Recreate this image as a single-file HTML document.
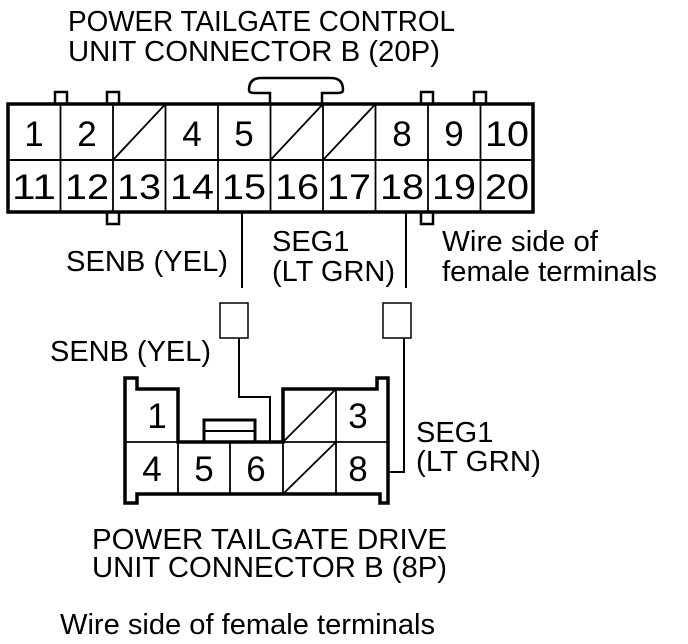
<!DOCTYPE html>
<html><head><meta charset="utf-8"><style>
html,body{margin:0;padding:0;background:#fff;}
svg{display:block;}
text{font-family:"Liberation Sans",Arial,sans-serif;fill:#000;}
</style></head><body>
<svg width="688" height="644" viewBox="0 0 688 644" xmlns="http://www.w3.org/2000/svg">
<g font-size="29">
<text x="68" y="31" textLength="387" lengthAdjust="spacingAndGlyphs">POWER TAILGATE CONTROL</text>
<text x="68" y="61" textLength="372" lengthAdjust="spacingAndGlyphs">UNIT CONNECTOR B (20P)</text>
<text x="66" y="271" textLength="162" lengthAdjust="spacingAndGlyphs">SENB (YEL)</text>
<text x="272" y="251">SEG1</text>
<text x="272" y="281" textLength="123" lengthAdjust="spacingAndGlyphs">(LT GRN)</text>
<text x="442" y="251" textLength="156" lengthAdjust="spacingAndGlyphs">Wire side of</text>
<text x="442" y="281" textLength="215" lengthAdjust="spacingAndGlyphs">female terminals</text>
<text x="50" y="361" textLength="161" lengthAdjust="spacingAndGlyphs">SENB (YEL)</text>
<text x="416" y="442">SEG1</text>
<text x="416" y="471" textLength="125" lengthAdjust="spacingAndGlyphs">(LT GRN)</text>
<text x="92" y="549" textLength="355" lengthAdjust="spacingAndGlyphs">POWER TAILGATE DRIVE</text>
<text x="92" y="577" textLength="355" lengthAdjust="spacingAndGlyphs">UNIT CONNECTOR B (8P)</text>
<text x="60" y="634" textLength="375" lengthAdjust="spacingAndGlyphs">Wire side of female terminals</text>
</g>

<g fill="none" stroke="#000">
<path d="M249,90 Q249,78 261,78 L331,78 Q343,78 343,90 Q343,93 337,93 L322,93 L322,104 M249,90 Q249,93 255,93 L270,93 L270,104" stroke-width="2.5"/>
<rect x="55" y="92" width="12" height="12" stroke-width="2.5"/>
<rect x="107" y="92" width="12" height="12" stroke-width="2.5"/>
<rect x="421" y="92" width="12" height="12" stroke-width="2.5"/>
<rect x="474" y="92" width="12" height="12" stroke-width="2.5"/>
<rect x="107" y="212" width="12" height="12" stroke-width="2.5"/>
<rect x="421" y="212" width="12" height="12" stroke-width="2.5"/>
<rect x="8" y="104" width="525" height="108" stroke-width="3.5" fill="#fff"/>
<line x1="8" y1="160" x2="533" y2="160" stroke-width="2"/>
<g stroke-width="1.8">
<line x1="60.5" y1="104" x2="60.5" y2="212"/>
<line x1="113" y1="104" x2="113" y2="212"/>
<line x1="165.5" y1="104" x2="165.5" y2="212"/>
<line x1="218" y1="104" x2="218" y2="212"/>
<line x1="270.5" y1="104" x2="270.5" y2="212"/>
<line x1="323" y1="104" x2="323" y2="212"/>
<line x1="375.5" y1="104" x2="375.5" y2="212"/>
<line x1="428" y1="104" x2="428" y2="212"/>
<line x1="480.5" y1="104" x2="480.5" y2="212"/>
<line x1="113" y1="160" x2="165.5" y2="104"/>
<line x1="270.5" y1="160" x2="323" y2="104"/>
<line x1="323" y1="160" x2="375.5" y2="104"/>
</g>
<g stroke-width="2">
<line x1="242" y1="212" x2="242" y2="288"/>
<line x1="406" y1="212" x2="406" y2="288"/>
<rect x="220" y="303" width="28" height="35" stroke-width="1.5"/>
<rect x="383" y="303" width="28" height="35" stroke-width="1.5"/>
<polyline points="239,338 239,397 270,397 270,442"/>
<polyline points="404,338 404,472 388,472"/>
</g>
<path d="M125,378 L137,378 L137,389 L178,389 L178,442 L283,442 L283,389 L377,389 L377,378 L388,378 L388,503 L380,503 L380,494 L137,494 L137,503 L125,503 Z" stroke-width="3.5" fill="#fff"/>
<path d="M204,442 L204,420 L255,420 L255,442" stroke-width="3"/>
<line x1="204" y1="431" x2="255" y2="431" stroke-width="2"/>
<line x1="270" y1="397" x2="270" y2="442" stroke-width="2"/>
<g stroke-width="1.8">
<line x1="125" y1="442" x2="388" y2="442"/>
<line x1="178" y1="442" x2="178" y2="494"/>
<line x1="230" y1="442" x2="230" y2="494"/>
<line x1="283" y1="442" x2="283" y2="494"/>
<line x1="336" y1="389" x2="336" y2="494"/>
<line x1="283" y1="442" x2="336" y2="389"/>
<line x1="283" y1="494" x2="336" y2="442"/>
</g>
</g>
<g font-size="35" text-anchor="middle">
<text x="34" y="146">1</text>
<text x="87" y="146">2</text>
<text x="192" y="146">4</text>
<text x="244" y="146">5</text>
<text x="402" y="146">8</text>
<text x="454" y="146">9</text>
<text x="507" y="146" textLength="44" lengthAdjust="spacingAndGlyphs">10</text>
<text x="34" y="199" textLength="44" lengthAdjust="spacingAndGlyphs">11</text>
<text x="87" y="199" textLength="44" lengthAdjust="spacingAndGlyphs">12</text>
<text x="139" y="199" textLength="44" lengthAdjust="spacingAndGlyphs">13</text>
<text x="192" y="199" textLength="44" lengthAdjust="spacingAndGlyphs">14</text>
<text x="244" y="199" textLength="44" lengthAdjust="spacingAndGlyphs">15</text>
<text x="297" y="199" textLength="44" lengthAdjust="spacingAndGlyphs">16</text>
<text x="349" y="199" textLength="44" lengthAdjust="spacingAndGlyphs">17</text>
<text x="402" y="199" textLength="44" lengthAdjust="spacingAndGlyphs">18</text>
<text x="454" y="199" textLength="44" lengthAdjust="spacingAndGlyphs">19</text>
<text x="507" y="199" textLength="44" lengthAdjust="spacingAndGlyphs">20</text>
<text x="157" y="428">1</text>
<text x="358" y="428">3</text>
<text x="152" y="481">4</text>
<text x="204" y="481">5</text>
<text x="256" y="481">6</text>
<text x="358" y="481">8</text>
</g>
</svg>
</body></html>
